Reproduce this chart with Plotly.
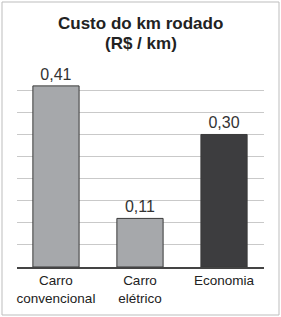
import plotly.graph_objects as go

categories = ["Carro<br>convencional", "Carro<br>elétrico", "Economia"]
values = [0.41, 0.11, 0.30]
labels = ["0,41", "0,11", "0,30"]
colors = ["#a6a8ab", "#a6a8ab", "#3d3d3f"]

W, H = 281, 317
L, R = 17, 17
T, B = 68, 50
pw = W - L - R
ph = H - T - B

def px_x(px):
    return (px - L) / pw

def px_y(py):
    return (H - B - py) / ph

fig = go.Figure(go.Bar(
    x=categories, y=values, text=labels, textposition="outside",
    marker=dict(color=colors, line=dict(color="#3a3a3a", width=1)),
    width=0.55, cliponaxis=False,
    textfont=dict(family="Liberation Sans, Arial", size=16, color="#333333"),
))

fig.update_layout(
    width=W, height=H, margin=dict(l=L, r=R, t=T, b=B),
    paper_bgcolor="white", plot_bgcolor="white", showlegend=False,
    xaxis=dict(range=[-0.464, 2.476], showline=True, linecolor="#444444", linewidth=1.5,
               ticks="", tickfont=dict(family="Liberation Sans, Arial", size=13.5, color="#222222"),
               fixedrange=True),
    yaxis=dict(range=[0, 0.4505], dtick=0.05, showticklabels=False, showgrid=True,
               gridcolor="#c9c9c9", gridwidth=1, zeroline=False, fixedrange=True),
    shapes=[dict(type="rect", xref="paper", yref="paper",
                 x0=px_x(2), x1=px_x(279), y0=px_y(315), y1=px_y(2),
                 line=dict(color="#bdbdbd", width=1))],
    annotations=[
        dict(text="<b>Custo do km rodado</b>", xref="paper", yref="paper",
             x=px_x(140.5), y=px_y(24), showarrow=False, xanchor="center", yanchor="middle",
             font=dict(family="Liberation Sans, Arial", size=17, color="#222222")),
        dict(text="<b>(R$ / km)</b>", xref="paper", yref="paper",
             x=px_x(140.5), y=px_y(43), showarrow=False, xanchor="center", yanchor="middle",
             font=dict(family="Liberation Sans, Arial", size=17, color="#222222")),
    ],
)

fig.write_html("out.html")
